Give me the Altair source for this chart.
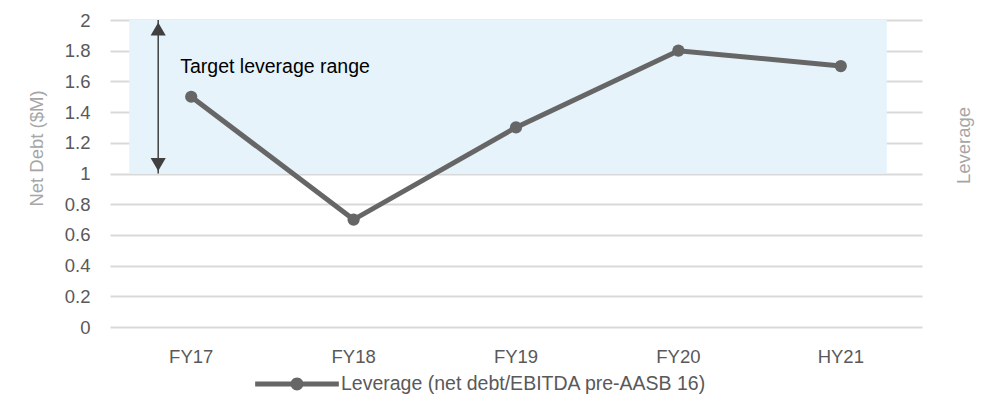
import altair as alt
import pandas as pd

periods = ["FY17", "FY18", "FY19", "FY20", "HY21"]
leverage = [1.5, 0.7, 1.3, 1.8, 1.7]
series_name = "Leverage (net debt/EBITDA pre-AASB 16)"
y_ticks = [0, 0.2, 0.4, 0.6, 0.8, 1, 1.2, 1.4, 1.6, 1.8, 2]
target_low, target_high = 1.0, 2.0
target_label = "Target leverage range"

FONT = "Liberation Sans, Arial, sans-serif"
GRAY = "#595959"
TGRAY = "#a6a6a6"

df = pd.DataFrame({"period": periods, "value": leverage, "series": [series_name] * len(periods)})
band = pd.DataFrame({"x": [periods[0]], "x2": [periods[-1]], "lo": [target_low], "hi": [target_high]})
arrow = pd.DataFrame({"x": [periods[0]], "lo": [target_low], "hi": [target_high], "label": [target_label]})

xscale = alt.Scale(type="band", domain=periods, paddingInner=0, paddingOuter=0)
yscale = alt.Scale(domain=[0, 2], nice=False)

xaxis = alt.Axis(title=None, labelAngle=0, ticks=False, domain=False,
                 labelPadding=20, labelFontSize=18.5, labelColor=GRAY, labelFont=FONT)

yaxis = alt.Axis(values=y_ticks, format="~g", labelOverlap=False,
                 title="Net Debt ($M)", titleFontSize=18.5, titleColor=TGRAY,
                 titleFont=FONT, titleFontWeight="normal",
                 titleX=-74, titleY=128, titleAngle=270, titleAlign="center", titleBaseline="middle",
                 labelFontSize=18.5, labelColor=GRAY, labelFont=FONT, labelPadding=20,
                 ticks=False, domain=False, grid=True, gridColor="#d9d9d9", gridWidth=2)


def X(field):
    return alt.X(field, scale=xscale, axis=xaxis, sort=periods)


def Y(field):
    return alt.Y(field, scale=yscale, axis=yaxis)


shade = alt.Chart(band).mark_rect(color="#e6f3fb", xOffset=-62, x2Offset=46).encode(
    x=X("x:N"), x2="x2:N", y=Y("lo:Q"), y2="hi:Q",
)

rule = alt.Chart(arrow).mark_rule(color="#404040", strokeWidth=1.5, xOffset=-33).encode(
    x=X("x:N"), y=Y("lo:Q"), y2="hi:Q")
head_top = alt.Chart(arrow).mark_point(shape="triangle-up", filled=True, color="#404040", size=230,
                                       opacity=1, xOffset=-33, yOffset=9).encode(
    x=X("x:N"), y=Y("hi:Q"))
head_bot = alt.Chart(arrow).mark_point(shape="triangle-down", filled=True, color="#404040", size=230,
                                       opacity=1, xOffset=-33, yOffset=-9).encode(
    x=X("x:N"), y=Y("lo:Q"))
label = alt.Chart(arrow).mark_text(align="left", baseline="middle", fontSize=19.5, font=FONT,
                                   color="#000000", xOffset=-11, yOffset=47).encode(
    x=X("x:N"), y=Y("hi:Q"), text="label:N")

sym = ("M -1 -0.06 L 1 -0.06 L 1 0.06 L -1 0.06 Z "
       "M 0.155 0 A 0.155 0.155 0 1 1 -0.155 0 A 0.155 0.155 0 1 1 0.155 0 Z")

line = alt.Chart(df).mark_line(strokeWidth=5, color="#666666").encode(
    x=X("period:N"),
    y=Y("value:Q"),
    color=alt.Color("series:N", scale=alt.Scale(range=["#666666"]),
                    legend=alt.Legend(title=None, orient="none", legendX=145, legendY=322,
                                      symbolType=sym, symbolSize=7000, symbolFillColor="#666666",
                                      symbolStrokeWidth=0, labelFontSize=19.5, labelColor=GRAY,
                                      labelFont=FONT, labelOffset=2, labelLimit=0)),
)
points = alt.Chart(df).mark_circle(size=150, color="#666666", opacity=1).encode(
    x=X("period:N"),
    y=Y("value:Q"),
)

right = alt.Chart(df).mark_point(opacity=0).encode(
    x=X("period:N"),
    y=alt.Y("value:Q", scale=yscale,
            axis=alt.Axis(orient="right", title="Leverage", titleFontSize=18.5, titleColor=TGRAY,
                          titleFont=FONT, titleFontWeight="normal", labels=False, ticks=False,
                          domain=False, grid=False,
                          titleX=41, titleY=125, titleAngle=270, titleAlign="center",
                          titleBaseline="middle")),
)

left = alt.layer(shade, rule, head_top, head_bot, label, line, points)
chart = alt.layer(left, right).resolve_scale(y="independent").properties(
    width=812, height=307,
    padding={"left": 102, "top": 12, "right": 60, "bottom": 84},
    autosize=alt.AutoSizeParams(type="none"),
).configure_view(stroke=None)

chart.save("out.html", embed_options={"renderer": "svg", "actions": False})
